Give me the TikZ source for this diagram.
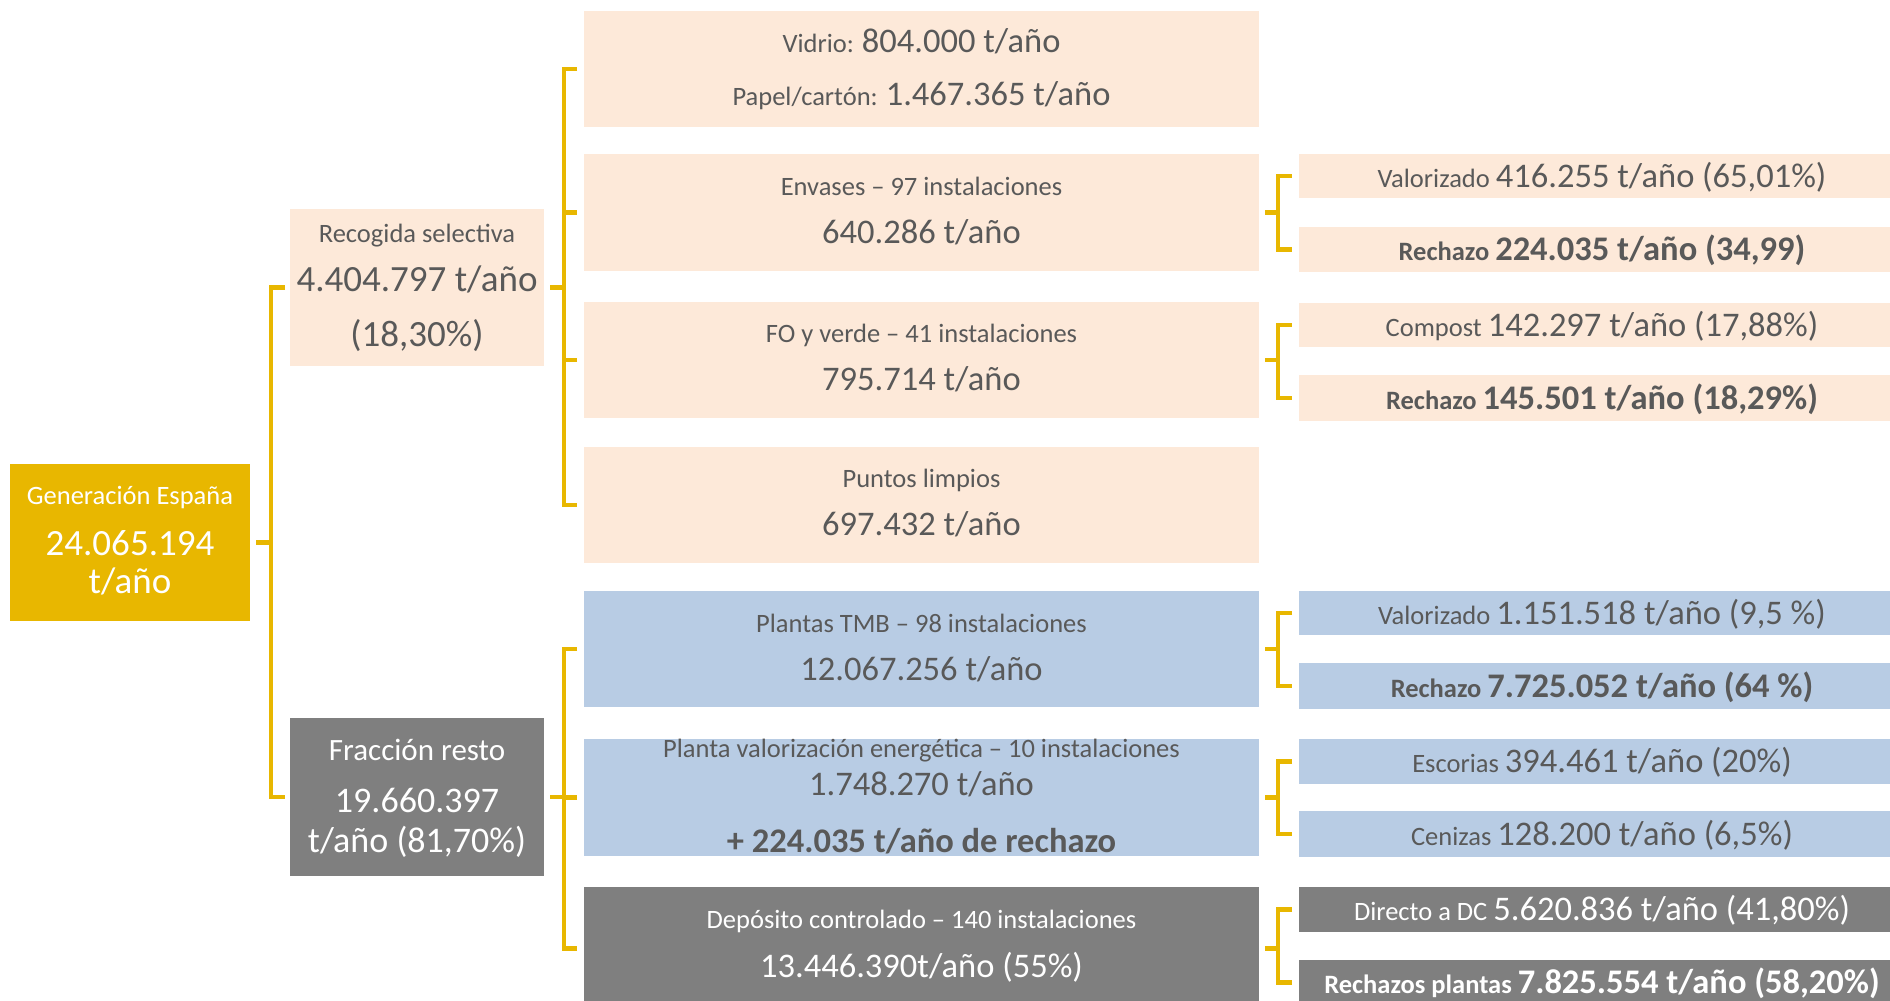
\documentclass[tikz,border=0pt]{standalone}
\usepackage{fontspec}
\setmainfont{Carlito}
\definecolor{gold}{RGB}{232,183,0}
\definecolor{peach}{RGB}{253,233,217}
\definecolor{lblue}{RGB}{184,204,228}
\definecolor{dgray}{RGB}{127,127,127}
\definecolor{txt}{RGB}{89,89,89}
\newcommand\szA{\fontsize{26.5}{30}\selectfont}
\newcommand\szB{\fontsize{34.5}{40}\selectfont}
\newcommand\szC{\fontsize{37}{42}\selectfont}
\newcommand\szD{\fontsize{31}{36}\selectfont}
\newcommand\szE{\fontsize{36}{41}\selectfont}
\tikzset{
  box/.style={draw=none, inner sep=0pt, outer sep=0pt, rectangle},
  pbox/.style={box, fill=peach},
  bbox/.style={box, fill=lblue},
  gbox/.style={box, fill=dgray},
  ybox/.style={box, fill=gold},
  tl/.style={anchor=base, inner sep=0pt, text=txt},
  tw/.style={anchor=base, inner sep=0pt, text=white},
  br/.style={draw=gold, line width=4.5pt, line cap=butt, line join=miter},
}
\begin{document}
\begin{tikzpicture}[x=1pt,y=-1pt]
\useasboundingbox (0,0) rectangle (1890,1001);
\clip (0,0) rectangle (1890,1001);

% left column
\node[ybox, minimum width=240pt, minimum height=157pt] (gen) at (130,542.5) {};
\node[pbox, minimum width=254pt, minimum height=157pt] (rec) at (417,287.5) {};
\node[gbox, minimum width=254pt, minimum height=158pt] (fr) at (417,797) {};

% middle column
\node[pbox, minimum width=675pt, minimum height=116pt] (vid) at (921.5,69) {};
\node[pbox, minimum width=675pt, minimum height=117pt] (env) at (921.5,212.5) {};
\node[pbox, minimum width=675pt, minimum height=116pt] (fo) at (921.5,360) {};
\node[pbox, minimum width=675pt, minimum height=116pt] (pl) at (921.5,505) {};
\node[bbox, minimum width=675pt, minimum height=116pt] (tmb) at (921.5,649) {};
\node[bbox, minimum width=675pt, minimum height=117pt] (pve) at (921.5,797.5) {};
\node[gbox, minimum width=675pt, minimum height=123pt] (dep) at (921.5,948.5) {};

% right column
\node[pbox, minimum width=606pt, minimum height=44pt] (r1) at (1602,176) {};
\node[pbox, minimum width=606pt, minimum height=45pt] (r2) at (1602,249.5) {};
\node[pbox, minimum width=606pt, minimum height=44pt] (r3) at (1602,325) {};
\node[pbox, minimum width=606pt, minimum height=46pt] (r4) at (1602,398) {};
\node[bbox, minimum width=606pt, minimum height=44pt] (r5) at (1602,613) {};
\node[bbox, minimum width=606pt, minimum height=46pt] (r6) at (1602,686) {};
\node[bbox, minimum width=606pt, minimum height=45pt] (r7) at (1602,761.5) {};
\node[bbox, minimum width=606pt, minimum height=46pt] (r8) at (1602,834) {};
\node[gbox, minimum width=606pt, minimum height=45pt] (r9) at (1602,909.5) {};
\node[gbox, minimum width=606pt, minimum height=45pt] (r10) at (1602,982.5) {};

% texts left
\node[tw] (gen1) at (130,504) {\szA Generación España};
\node[tw] (gen2) at (130,555) {\szC 24.065.194};
\node[tw] (gen3) at (130,593) {\szC t/año};
\node[tl] (rec1) at (417,242) {\szA Recogida selectiva};
\node[tl] (rec2) at (417,291) {\szC 4.404.797 t/año};
\node[tl] (rec3) at (417,346) {\szC (18,30\%)};
\node[tw] (fr1) at (417,760) {\szD Fracción resto};
\node[tw] (fr2) at (417,812) {\szE 19.660.397};
\node[tw] (fr3) at (417,852) {\szE t/año (81,70\%)};

% texts middle
\node[tl] (vid1) at (921.5,52) {{\szA Vidrio: }{\szB 804.000 t/año}};
\node[tl] (vid2) at (921.5,105) {{\szA Papel/cartón: }{\szB 1.467.365 t/año}};
\node[tl] (env1) at (921.5,195) {\szA Envases – 97 instalaciones};
\node[tl] (env2) at (921.5,243) {\szB 640.286 t/año};
\node[tl] (fo1) at (921.5,342.5) {\szA FO y verde – 41 instalaciones};
\node[tl] (fo2) at (921.5,390.5) {\szB 795.714 t/año};
\node[tl] (pl1) at (921.5,487.5) {\szA Puntos limpios};
\node[tl] (pl2) at (921.5,535.5) {\szB 697.432 t/año};
\node[tl] (tmb1) at (921.5,632) {\szA Plantas TMB – 98 instalaciones};
\node[tl] (tmb2) at (921.5,680) {\szB 12.067.256 t/año};
\node[tl] (pve1) at (921.5,757) {\szA Planta valorización energética – 10 instalaciones};
\node[tl] (pve2) at (921.5,795) {\szB 1.748.270 t/año};
\node[tl] (pve3) at (921.5,852) {\szB\bfseries + 224.035 t/año de rechazo};
\node[tw] (dep1) at (921.5,928) {\szA Depósito controlado – 140 instalaciones};
\node[tw] (dep2) at (921.5,977) {\szB 13.446.390t/año (55\%)};

% texts right
\node[tl] (r1t) at (1602,187) {{\szA Valorizado }{\szB 416.255 t/año (65,01\%)}};
\node[tl] (r2t) at (1602,260.5) {\bfseries{\szA Rechazo }{\szB 224.035 t/año (34,99)}};
\node[tl] (r3t) at (1602,336) {{\szA Compost }{\szB 142.297 t/año (17,88\%)}};
\node[tl] (r4t) at (1602,409) {\bfseries{\szA Rechazo }{\szB 145.501 t/año (18,29\%)}};
\node[tl] (r5t) at (1602,624) {{\szA Valorizado }{\szB 1.151.518 t/año (9,5 \%)}};
\node[tl] (r6t) at (1602,697) {\bfseries{\szA Rechazo }{\szB 7.725.052 t/año (64 \%)}};
\node[tl] (r7t) at (1602,772.5) {{\szA Escorias }{\szB 394.461 t/año (20\%)}};
\node[tl] (r8t) at (1602,845) {{\szA Cenizas }{\szB 128.200 t/año (6,5\%)}};
\node[tw] (r9t) at (1602,920.5) {{\szA Directo a DC }{\szB 5.620.836 t/año (41,80\%)}};
\node[tw] (r10t) at (1602,993.5) {\bfseries{\szA Rechazos plantas }{\szB 7.825.554 t/año (58,20\%)}};

% brackets
\coordinate (Lv) at (271,0);
\coordinate (Uv) at (564,0);
\coordinate (Rv) at (1278,0);

\draw[br] ([xshift=6pt]gen.east) -- (gen.east -| Lv);
\draw[br] ([xshift=-5pt]rec.west) -- (rec.west -| Lv) -- (fr.west -| Lv) -- ([xshift=-5pt]fr.west);

\draw[br] ([xshift=6pt]rec.east) -- (rec.east -| Uv);
\draw[br] ([xshift=-7pt]vid.west) -- (vid.west -| Uv) -- (pl.west -| Uv) -- ([xshift=-7pt]pl.west);
\draw[br] ([xshift=-7pt]env.west) -- (env.west -| Uv);
\draw[br] ([xshift=-7pt]fo.west) -- (fo.west -| Uv);

\draw[br] ([xshift=6pt]fr.east) -- (fr.east -| Uv);
\draw[br] ([xshift=-7pt]tmb.west) -- (tmb.west -| Uv) -- (dep.west -| Uv) -- ([xshift=-7pt]dep.west);
\draw[br] ([xshift=-7pt]pve.west) -- (pve.west -| Uv);

\foreach \m/\a/\b in {env/r1/r2, fo/r3/r4, tmb/r5/r6, pve/r7/r8, dep/r9/r10}{
  \draw[br] ([xshift=6pt]\m.east) -- (\m.east -| Rv);
  \draw[br] ([xshift=-7pt]\a.west) -- (\a.west -| Rv) -- (\b.west -| Rv) -- ([xshift=-7pt]\b.west);
}
\end{tikzpicture}
\end{document}
